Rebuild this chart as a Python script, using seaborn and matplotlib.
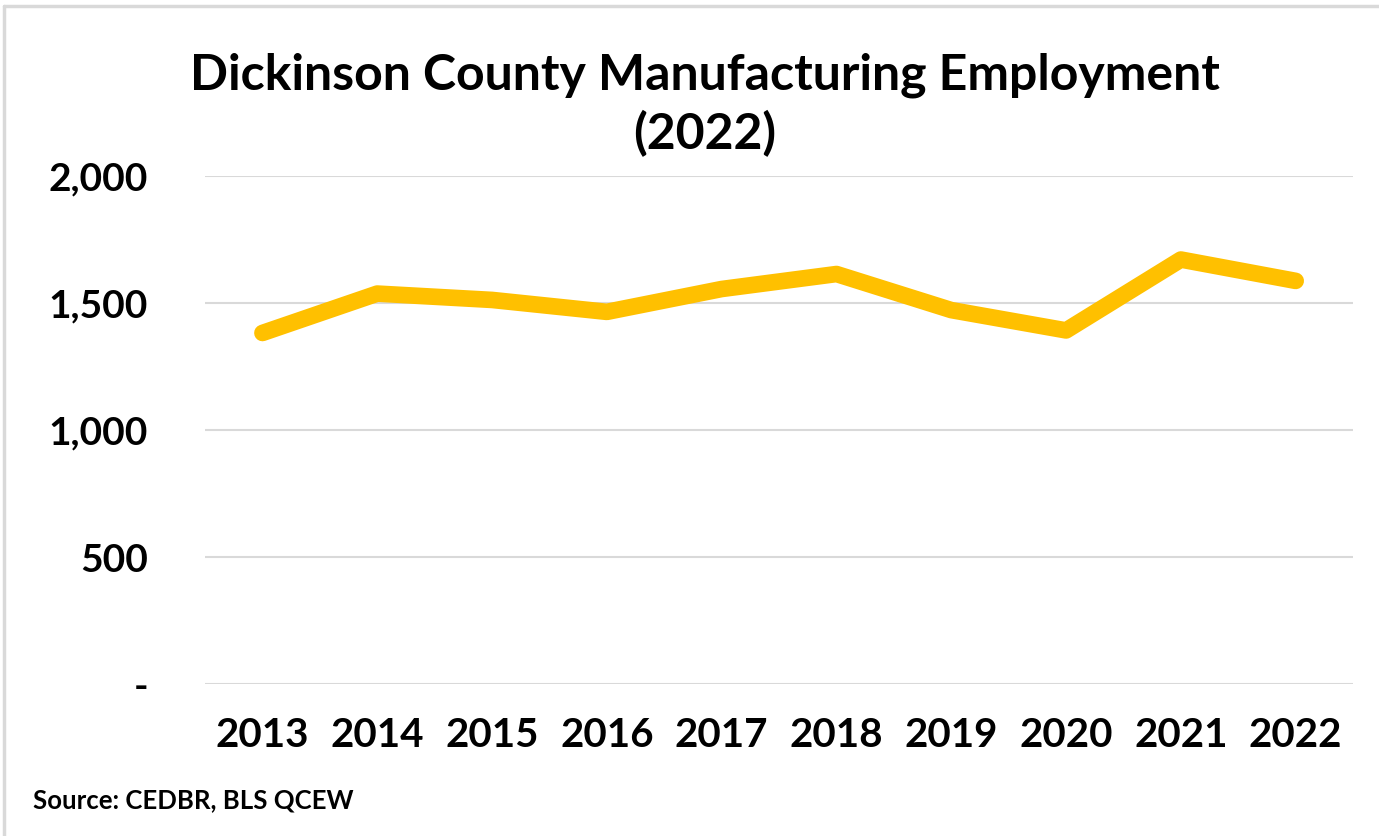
import matplotlib
matplotlib.use("Agg")
import matplotlib.pyplot as plt
from matplotlib.lines import Line2D
from matplotlib.ticker import FuncFormatter
import seaborn as sns
import pandas as pd

years = ["2013", "2014", "2015", "2016", "2017", "2018", "2019", "2020", "2021", "2022"]
employment = [1382, 1537, 1512, 1465, 1555, 1614, 1472, 1392, 1671, 1587]
y_ticks = [0, 500, 1000, 1500, 2000]

title = "Dickinson County Manufacturing Employment\n(2022)"
source = "Source: CEDBR, BLS QCEW"

sns.set_theme(style="white")
plt.rcParams["font.family"] = ["Lato", "DejaVu Sans"]
plt.rcParams["text.color"] = "black"

df = pd.DataFrame({"Year": years, "Employment": employment})

fig = plt.figure(figsize=(13.79, 8.36), dpi=100)
ax = fig.add_axes([0.1487, 0.1818, 0.8325, 0.6077])

sns.lineplot(data=df, x="Year", y="Employment", ax=ax, color="#FFC000",
             linewidth=12, solid_capstyle="round", solid_joinstyle="round",
             zorder=3)

ax.set_xlim(-0.5, len(years) - 0.5)
ax.set_ylim(0, 2000)
ax.set_yticks(y_ticks)
ax.yaxis.set_major_formatter(FuncFormatter(lambda v, p: "-" if v == 0 else f"{int(v):,}"))
ax.grid(axis="y", color="#d9d9d9", linewidth=1.5)
ax.grid(axis="x", visible=False)
for s in ax.spines.values():
    s.set_visible(False)
ax.set_xlabel("")
ax.set_ylabel("")
ax.tick_params(axis="y", length=0, pad=41, labelsize=28, labelcolor="black")
ax.tick_params(axis="x", length=0, pad=24, labelsize=29, labelcolor="black")
for lab in ax.get_xticklabels() + ax.get_yticklabels():
    lab.set_fontweight("bold")

fig.text(0.511, 0.937, title, ha="center", va="top", fontsize=36,
         fontweight="bold", linespacing=1.3, color="black")
fig.text(0.024, 0.043, source, ha="left", va="center", fontsize=18.5,
         fontweight="bold", color="black")

fig.add_artist(Line2D([0.003, 1.0], [0.993, 0.993], transform=fig.transFigure,
                      color="#d9d9d9", linewidth=2.5))
fig.add_artist(Line2D([0.003, 0.003], [0.0, 0.993], transform=fig.transFigure,
                      color="#d9d9d9", linewidth=2.5))

fig.savefig("out.png", dpi=100, facecolor="white")
